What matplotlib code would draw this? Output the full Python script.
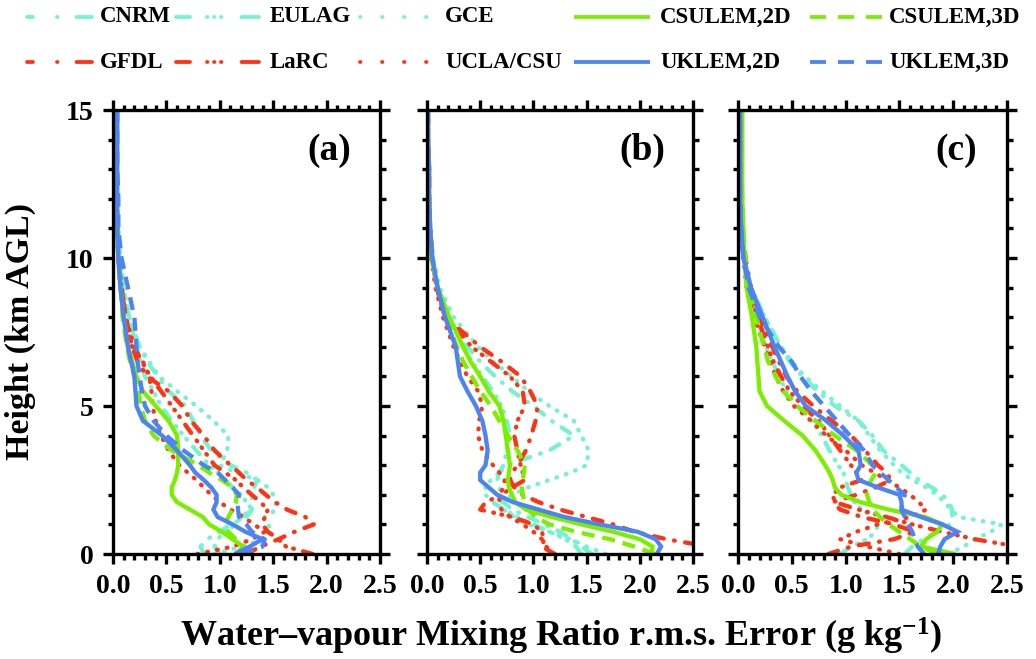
import matplotlib
matplotlib.use('Agg')
import matplotlib.pyplot as plt
from matplotlib.lines import Line2D
from matplotlib.ticker import MultipleLocator, FormatStrFormatter

plt.rcParams['font.family'] = ['Liberation Serif', 'DejaVu Serif']
plt.rcParams['font.weight'] = 'bold'
plt.rcParams['mathtext.fontset'] = 'custom'
plt.rcParams['mathtext.rm'] = 'Liberation Serif:bold'
plt.rcParams['mathtext.it'] = 'Liberation Serif:bold'
plt.rcParams['mathtext.bf'] = 'Liberation Serif:bold'
plt.rcParams['mathtext.default'] = 'rm'
plt.rcParams['lines.scale_dashes'] = False

# ---------------- data ----------------
HEIGHT = [0, 0.25, 0.5, 0.75, 1.0, 1.25, 1.5, 1.75, 2.0, 2.25, 2.5, 2.75, 3.0,
          3.5, 4.0, 4.5, 5.0, 5.5, 6.0, 6.5, 7.0, 8.0, 9.0, 10.0, 11.0, 12.0,
          13.0, 14.0, 15.0]

MODELS = ['CNRM', 'EULAG', 'GCE', 'CSULEM,2D', 'CSULEM,3D',
          'GFDL', 'LaRC', 'UCLA/CSU', 'UKLEM,2D', 'UKLEM,3D']

PANEL_LABELS = ['(a)', '(b)', '(c)']
X_TICKS = [0.0, 0.5, 1.0, 1.5, 2.0, 2.5]
Y_TICKS = [0, 5, 10, 15]

# panel (a)
A_CNRM = [0.85, 0.82, 0.88, 1.00, 1.10, 1.25, 1.30, 1.30, 1.30, 1.32, 1.35, 1.25, 1.10, 0.92, 0.82, 0.75, 0.68, 0.52, 0.42, 0.32, 0.25, 0.15, 0.10, 0.07, 0.05, 0.04, 0.03, 0.03, 0.02]
A_EULAG = [1.00, 0.95, 0.98, 1.05, 1.15, 1.20, 1.30, 1.25, 1.20, 1.12, 1.05, 0.98, 0.90, 0.78, 0.66, 0.55, 0.45, 0.38, 0.30, 0.26, 0.22, 0.15, 0.09, 0.06, 0.05, 0.04, 0.03, 0.03, 0.03]
A_GCE = [0.95, 1.20, 1.40, 1.50, 1.45, 1.42, 1.53, 1.52, 1.50, 1.45, 1.35, 1.15, 1.00, 1.07, 1.08, 0.94, 0.78, 0.60, 0.43, 0.34, 0.25, 0.15, 0.10, 0.06, 0.04, 0.03, 0.02, 0.02, 0.02]
A_CSU2D = [1.20, 1.22, 1.12, 1.02, 0.90, 0.84, 0.72, 0.60, 0.55, 0.55, 0.58, 0.60, 0.61, 0.61, 0.60, 0.52, 0.40, 0.28, 0.22, 0.18, 0.14, 0.10, 0.07, 0.05, 0.04, 0.03, 0.03, 0.03, 0.02]
A_CSU3D = [1.15, 1.22, 1.15, 1.08, 1.05, 1.08, 1.12, 1.15, 1.16, 1.12, 1.02, 0.90, 0.80, 0.55, 0.38, 0.30, 0.26, 0.24, 0.20, 0.16, 0.13, 0.09, 0.07, 0.05, 0.04, 0.03, 0.03, 0.03, 0.02]
A_GFDL = [1.25, 1.38, 1.55, 1.70, 1.88, 1.80, 1.63, 1.52, 1.43, 1.35, 1.25, 1.18, 1.10, 0.95, 0.85, 0.73, 0.65, 0.52, 0.32, 0.23, 0.18, 0.12, 0.08, 0.05, 0.04, 0.03, 0.02, 0.02, 0.02]
A_LARC = [1.87, 1.62, 1.55, 1.45, 1.40, 1.42, 1.45, 1.38, 1.30, 1.22, 1.15, 1.05, 0.95, 0.85, 0.75, 0.65, 0.55, 0.45, 0.35, 0.27, 0.20, 0.12, 0.08, 0.05, 0.04, 0.03, 0.02, 0.02, 0.02]
A_UCLA = [0.79, 1.12, 1.30, 1.42, 1.32, 1.22, 1.10, 1.00, 0.92, 0.85, 0.78, 0.70, 0.62, 0.52, 0.45, 0.40, 0.37, 0.36, 0.34, 0.28, 0.18, 0.10, 0.07, 0.05, 0.04, 0.03, 0.02, 0.02, 0.02]
A_UK2D = [1.14, 1.28, 1.40, 1.24, 1.12, 0.98, 0.94, 0.97, 0.97, 0.92, 0.85, 0.77, 0.72, 0.60, 0.46, 0.28, 0.22, 0.21, 0.20, 0.17, 0.14, 0.10, 0.07, 0.05, 0.04, 0.04, 0.04, 0.04, 0.04]
A_UK3D = [1.20, 1.40, 1.42, 1.30, 1.25, 1.18, 1.17, 1.17, 1.18, 1.12, 1.05, 0.98, 0.85, 0.66, 0.50, 0.38, 0.30, 0.27, 0.25, 0.23, 0.22, 0.20, 0.14, 0.08, 0.05, 0.05, 0.04, 0.04, 0.04]

# panel (b)
B_CNRM = [1.55, 1.45, 1.36, 1.25, 1.10, 0.95, 0.80, 0.72, 0.70, 0.68, 0.66, 0.68, 0.75, 1.15, 1.38, 1.17, 1.00, 0.80, 0.64, 0.50, 0.38, 0.20, 0.10, 0.05, 0.03, 0.02, 0.02, 0.01, 0.01]
B_EULAG = [1.45, 1.40, 1.30, 1.15, 1.00, 0.85, 0.72, 0.62, 0.55, 0.55, 0.60, 0.68, 0.72, 0.75, 0.78, 0.75, 0.70, 0.62, 0.52, 0.42, 0.34, 0.20, 0.10, 0.05, 0.03, 0.02, 0.02, 0.01, 0.01]
B_GCE = [1.68, 1.50, 1.35, 1.15, 0.95, 0.82, 0.72, 0.70, 0.80, 0.95, 1.15, 1.35, 1.50, 1.52, 1.45, 1.38, 1.15, 0.95, 0.80, 0.62, 0.48, 0.25, 0.12, 0.06, 0.03, 0.02, 0.02, 0.01, 0.01]
B_CSU2D = [2.11, 2.12, 2.00, 1.75, 1.45, 1.17, 0.93, 0.83, 0.80, 0.77, 0.76, 0.77, 0.78, 0.76, 0.74, 0.72, 0.68, 0.58, 0.50, 0.41, 0.34, 0.21, 0.10, 0.04, 0.02, 0.02, 0.01, 0.01, 0.01]
B_CSU3D = [2.14, 1.95, 1.72, 1.40, 1.15, 1.02, 0.95, 0.92, 0.90, 0.89, 0.90, 0.91, 0.92, 0.85, 0.76, 0.68, 0.60, 0.50, 0.42, 0.34, 0.28, 0.18, 0.10, 0.05, 0.03, 0.02, 0.02, 0.01, 0.01]
B_GFDL = [2.80, 2.65, 2.25, 1.95, 1.75, 1.50, 1.25, 1.05, 0.90, 0.82, 0.78, 0.80, 0.85, 0.93, 0.98, 1.02, 1.04, 0.97, 0.88, 0.70, 0.50, 0.17, 0.09, 0.05, 0.03, 0.02, 0.02, 0.01, 0.01]
B_LARC = [1.20, 1.08, 1.10, 1.08, 1.00, 0.80, 0.50, 0.55, 0.70, 0.80, 0.92, 0.90, 0.88, 0.85, 0.82, 0.85, 0.92, 0.90, 0.78, 0.60, 0.42, 0.18, 0.09, 0.05, 0.03, 0.02, 0.02, 0.01, 0.01]
B_UCLA = [1.20, 1.12, 1.08, 1.00, 0.90, 0.78, 0.70, 0.68, 0.68, 0.72, 0.73, 0.68, 0.62, 0.52, 0.48, 0.49, 0.52, 0.48, 0.38, 0.31, 0.25, 0.15, 0.08, 0.04, 0.02, 0.02, 0.01, 0.01, 0.01]
B_UK2D = [2.16, 2.20, 2.15, 1.98, 1.62, 1.29, 1.05, 0.81, 0.66, 0.58, 0.50, 0.50, 0.55, 0.57, 0.55, 0.52, 0.46, 0.38, 0.31, 0.29, 0.27, 0.17, 0.10, 0.05, 0.03, 0.02, 0.02, 0.01, 0.01]
B_UK3D = None  # not drawn in panel (b)

# panel (c)
C_CNRM = [1.55, 1.62, 1.72, 1.85, 1.97, 1.99, 1.99, 1.96, 1.90, 1.80, 1.68, 1.60, 1.52, 1.35, 1.25, 1.12, 0.90, 0.74, 0.60, 0.48, 0.40, 0.25, 0.12, 0.06, 0.03, 0.02, 0.02, 0.02, 0.02]
C_EULAG = [0.95, 1.05, 1.20, 1.28, 1.30, 1.25, 1.15, 1.08, 1.05, 1.02, 1.00, 0.98, 0.93, 0.85, 0.78, 0.68, 0.55, 0.45, 0.38, 0.32, 0.26, 0.17, 0.10, 0.05, 0.03, 0.02, 0.02, 0.02, 0.02]
C_GCE = [1.95, 2.10, 2.20, 2.35, 2.45, 2.05, 1.98, 1.92, 1.85, 1.75, 1.62, 1.52, 1.45, 1.32, 1.22, 1.12, 0.95, 0.78, 0.62, 0.50, 0.40, 0.25, 0.12, 0.06, 0.03, 0.02, 0.02, 0.02, 0.02]
C_CSU2D = [2.02, 1.70, 1.75, 1.85, 1.90, 1.74, 1.40, 1.14, 0.96, 0.90, 0.88, 0.85, 0.81, 0.72, 0.60, 0.43, 0.27, 0.20, 0.19, 0.18, 0.17, 0.13, 0.08, 0.06, 0.05, 0.04, 0.04, 0.04, 0.04]
C_CSU3D = [1.85, 1.70, 1.60, 1.50, 1.40, 1.32, 1.25, 1.22, 1.20, 1.20, 1.24, 1.28, 1.25, 1.10, 0.90, 0.72, 0.55, 0.42, 0.35, 0.28, 0.24, 0.17, 0.10, 0.07, 0.05, 0.04, 0.03, 0.03, 0.03]
C_GFDL = [0.84, 1.05, 1.45, 1.64, 1.45, 1.15, 0.95, 0.88, 1.10, 1.28, 1.42, 1.38, 1.30, 1.18, 1.05, 0.87, 0.70, 0.55, 0.45, 0.38, 0.32, 0.20, 0.12, 0.07, 0.04, 0.03, 0.02, 0.02, 0.02]
C_LARC = [2.70, 2.60, 2.20, 1.90, 1.62, 1.38, 1.12, 0.90, 0.88, 0.95, 1.15, 1.10, 1.05, 0.95, 0.85, 0.75, 0.60, 0.48, 0.40, 0.33, 0.28, 0.18, 0.10, 0.06, 0.04, 0.03, 0.02, 0.02, 0.02]
C_UCLA = [1.50, 1.20, 0.95, 1.10, 1.30, 1.60, 1.75, 1.68, 1.60, 1.50, 1.38, 1.27, 1.15, 1.00, 0.82, 0.68, 0.52, 0.42, 0.35, 0.30, 0.25, 0.15, 0.08, 0.05, 0.03, 0.02, 0.02, 0.02, 0.02]
C_UK2D = [1.86, 1.88, 1.92, 2.04, 1.90, 1.70, 1.52, 1.52, 1.50, 1.30, 1.12, 1.10, 1.14, 1.12, 0.98, 0.82, 0.63, 0.53, 0.46, 0.40, 0.34, 0.23, 0.12, 0.05, 0.03, 0.02, 0.02, 0.02, 0.02]
C_UK3D = [1.73, 1.67, 1.64, 1.62, 1.58, 1.55, 1.52, 1.53, 1.55, 1.47, 1.40, 1.32, 1.25, 1.17, 1.04, 0.92, 0.80, 0.68, 0.58, 0.50, 0.38, 0.20, 0.10, 0.05, 0.03, 0.02, 0.02, 0.02, 0.02]

PANELS = [
    [A_CNRM, A_EULAG, A_GCE, A_CSU2D, A_CSU3D, A_GFDL, A_LARC, A_UCLA, A_UK2D, A_UK3D],
    [B_CNRM, B_EULAG, B_GCE, B_CSU2D, B_CSU3D, B_GFDL, B_LARC, B_UCLA, B_UK2D, B_UK3D],
    [C_CNRM, C_EULAG, C_GCE, C_CSU2D, C_CSU3D, C_GFDL, C_LARC, C_UCLA, C_UK2D, C_UK3D],
]

# ---------------- style ----------------
W, H = 1036, 659
DPI = 100
PT = 72.0 / DPI          # points per pixel

AQUA = '#74F3D3'
RED = '#FF3314'
GREEN = '#7CEE00'
BLUE = '#4C84F2'

def px(seq):
    return tuple(v * PT for v in seq)

# plot dash patterns (pixels); round caps for the dotted kinds
P_DASHDOT = px([10, 10.5, 0.8, 10.5])
P_DASH3 = px([10, 9.5, 0.8, 7.5, 0.8, 7.5, 0.8, 9.5])
P_DOT = px([0.8, 9.2])
P_DASH = px([13, 8])

STYLE = {
    'CNRM': (AQUA, P_DASHDOT, 'round'),
    'EULAG': (AQUA, P_DASH3, 'round'),
    'GCE': (AQUA, P_DOT, 'round'),
    'CSULEM,2D': (GREEN, None, 'butt'),
    'CSULEM,3D': (GREEN, P_DASH, 'butt'),
    'GFDL': (RED, P_DASHDOT, 'round'),
    'LaRC': (RED, P_DASH3, 'round'),
    'UCLA/CSU': (RED, P_DOT, 'round'),
    'UKLEM,2D': (BLUE, None, 'butt'),
    'UKLEM,3D': (BLUE, P_DASH, 'butt'),
}
# legend handle patterns (pixels)
LEG_PAT = {
    'CNRM': px([6, 24, 0.5, 19, 30]),
    'EULAG': px([14, 17, 0.5, 6.5, 0.5, 6.5, 0.5, 20, 30]),
    'GCE': px([0.5, 21.5]),
    'CSULEM,2D': None,
    'CSULEM,3D': px([16, 12]),
    'GFDL': px([6, 24, 0.5, 19, 30]),
    'LaRC': px([14, 17, 0.5, 6.5, 0.5, 6.5, 0.5, 20, 30]),
    'UCLA/CSU': px([0.5, 21.5]),
    'UKLEM,2D': None,
    'UKLEM,3D': px([16, 12]),
}
DRAW_ORDER = [0, 1, 2, 5, 6, 7, 3, 4, 8, 9]

LW = 4.3 * PT

fig = plt.figure(figsize=(W / DPI, H / DPI), dpi=DPI)

panel_px = [(113, 380), (427, 693), (738, 1007)]
top_px, bot_px = 110, 554

for i, (x0, x1) in enumerate(panel_px):
    ax = fig.add_axes([x0 / W, 1 - bot_px / H, (x1 - x0) / W, (bot_px - top_px) / H])
    series = PANELS[i]
    for k in DRAW_ORDER:
        vals = series[k]
        if vals is None:
            continue
        color, pat, cap = STYLE[MODELS[k]]
        ls = '-' if pat is None else (0, pat)
        ax.plot(vals, HEIGHT, color=color, lw=LW, linestyle=ls,
                dash_capstyle=cap, solid_capstyle='butt', solid_joinstyle='miter')
    ax.set_xlim(0, 2.5)
    ax.set_ylim(0, 15)
    ax.set_xticks(X_TICKS)
    ax.set_yticks(Y_TICKS)
    ax.xaxis.set_minor_locator(MultipleLocator(0.1))
    ax.yaxis.set_minor_locator(MultipleLocator(1))
    ax.xaxis.set_major_formatter(FormatStrFormatter('%.1f'))
    ax.yaxis.set_major_formatter(FormatStrFormatter('%d'))
    ax.tick_params(which='both', direction='out', top=True, right=True,
                   width=2.4, color='black', labelsize=20)
    ax.tick_params(which='major', length=10 * PT)
    ax.tick_params(which='minor', length=5.5 * PT)
    ax.tick_params(axis='x', pad=7)
    ax.tick_params(axis='y', pad=7)
    if i > 0:
        ax.tick_params(axis='y', labelleft=False)
    for s in ax.spines.values():
        s.set_linewidth(2.4)
    ax.text(0.81, 0.908, PANEL_LABELS[i], transform=ax.transAxes, fontsize=27,
            fontweight='bold', ha='center', va='center')

# axis titles
fig.text(561 / W, 1 - 636 / H,
         'Water\u2013vapour Mixing Ratio r.m.s. Error (g kg$^{\\mathbf{\u2212 1}}$)',
         ha='center', va='center', fontsize=26, fontweight='bold')
fig.text(20 / W, 1 - 332 / H, 'Height (km AGL)', rotation=90, ha='center',
         va='center', fontsize=24.5, fontweight='bold')

# legend
cols = [(27, 92, 100), (176, 259, 270), (360, 431, 445), (574, 650, 660), (810, 883, 889)]
rows = [17, 62]
for k, name in enumerate(MODELS):
    r, c = divmod(k, 5)
    lx0, lx1, tx = cols[c]
    y = 1 - rows[r] / H
    color, _, cap = STYLE[name]
    pat = LEG_PAT[name]
    ls = '-' if pat is None else (0, pat)
    fig.add_artist(Line2D([lx0 / W, lx1 / W], [y, y], transform=fig.transFigure,
                          color=color, lw=3.8 * PT, linestyle=ls, dash_capstyle=cap,
                          solid_capstyle='butt'))
    fig.text(tx / W, y, name, ha='left', va='center', fontsize=16.5, fontweight='bold')

fig.savefig('out.png', dpi=DPI)
